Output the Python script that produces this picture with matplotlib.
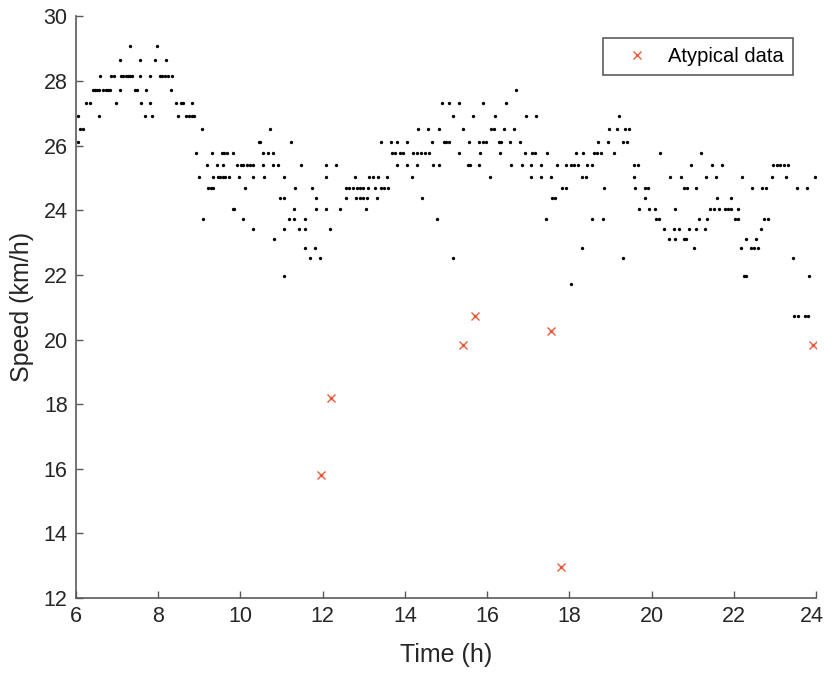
import numpy as np
import matplotlib
matplotlib.use("Agg")
import matplotlib.pyplot as plt
import matplotlib.transforms as mtransforms

plt.rcParams['font.family'] = ['Liberation Sans', 'DejaVu Sans']

# speed levels (km/h) and the times (h) at which each level was recorded
speed_levels = [29.09, 28.64, 28.17, 27.74, 27.32, 26.92, 26.51, 26.13, 25.76,
                25.39, 25.04, 24.69, 24.37, 24.05, 23.73, 23.42, 23.11, 22.82,
                22.54, 21.97, 21.72, 20.72]

times_at_level = [
    [7.31, 7.98],
    [7.06, 7.56, 7.92, 8.18],
    [6.58, 6.84, 6.92, 7.10, 7.15, 7.21, 7.27, 7.31, 7.37, 7.56, 7.80, 8.04,
     8.10, 8.16, 8.24, 8.34],
    [6.41, 6.46, 6.52, 6.57, 6.66, 6.72, 6.78, 6.82, 7.06, 7.43, 7.48, 7.70,
     8.30, 16.69],
    [6.24, 6.33, 6.97, 7.58, 7.81, 8.43, 8.55, 8.61, 8.81, 14.91, 15.06, 15.31,
     15.91, 16.45],
    [6.05, 6.56, 7.67, 7.84, 8.48, 8.68, 8.75, 8.81, 8.87, 15.17, 15.65, 16.19,
     16.95, 17.19, 19.20],
    [6.09, 6.18, 9.06, 10.72, 14.31, 14.56, 14.82, 15.41, 16.09, 16.16, 16.41,
     16.66, 18.96, 19.17, 19.35, 19.45],
    [6.05, 10.44, 10.48, 11.23, 13.41, 13.66, 13.81, 14.06, 14.66, 14.95, 15.00,
     15.07, 15.57, 15.81, 15.90, 15.98, 16.28, 16.33, 16.56, 16.80, 18.70,
     18.93, 19.31, 19.41],
    [8.93, 9.32, 9.55, 9.61, 9.67, 9.83, 10.56, 10.68, 10.80, 13.69, 13.77,
     13.87, 13.95, 14.19, 14.29, 14.39, 14.48, 14.58, 15.31, 15.82, 16.32,
     16.92, 17.08, 17.16, 17.45, 18.15, 18.33, 18.60, 18.68, 18.78, 19.08,
     20.20, 21.20],
    [9.18, 9.42, 9.58, 9.92, 10.01, 10.07, 10.15, 10.23, 10.31, 10.54, 10.80,
     10.92, 11.47, 12.08, 12.33, 13.80, 14.05, 14.30, 14.69, 14.82, 15.54,
     15.59, 15.80, 16.58, 16.84, 17.06, 17.31, 17.70, 17.91, 18.04, 18.10,
     18.20, 18.44, 18.55, 19.57, 19.67, 20.95, 21.46, 21.70, 22.96, 23.04,
     23.12, 23.23, 23.32],
    [8.98, 9.33, 9.45, 9.51, 9.57, 9.62, 9.73, 9.97, 10.31, 10.57, 11.07, 12.08,
     12.79, 13.13, 13.23, 13.34, 13.56, 14.16, 16.07, 17.06, 17.32, 17.56,
     18.31, 18.41, 19.57, 20.44, 20.71, 21.32, 21.56, 22.20, 22.93, 23.28,
     23.97],
    [9.21, 9.28, 9.34, 10.10, 11.33, 11.73, 12.57, 12.65, 12.73, 12.83, 12.91,
     12.99, 13.09, 13.28, 13.42, 13.50, 13.58, 17.81, 17.92, 18.84, 19.59,
     19.84, 19.92, 20.79, 20.86, 21.07, 22.45, 22.69, 22.77, 23.53, 23.78],
    [10.96, 11.06, 11.84, 12.57, 12.81, 12.91, 12.99, 13.07, 13.32, 14.42,
     17.58, 17.66, 19.84, 21.59, 21.94],
    [9.81, 9.84, 11.30, 11.84, 12.07, 12.42, 13.06, 19.69, 19.93, 20.08, 20.57,
     21.42, 21.52, 21.64, 21.78, 21.85, 21.93, 22.09],
    [9.10, 10.07, 11.17, 11.30, 11.58, 14.79, 17.42, 18.55, 18.81, 20.10, 20.18,
     21.15, 21.34, 22.03, 22.09, 22.74, 22.82],
    [10.31, 11.06, 11.43, 11.57, 12.18, 20.31, 20.55, 20.67, 20.92, 21.08,
     21.30, 22.67],
    [10.82, 20.42, 20.58, 20.79, 20.83, 22.30, 22.55],
    [11.56, 11.82, 18.31, 21.04, 22.17, 22.42, 22.50, 22.58],
    [11.68, 11.94, 15.18, 19.30, 23.43],
    [11.07, 22.24, 22.30, 23.82],
    [18.05],
    [23.47, 23.55, 23.73, 23.81],
]

# atypical readings
atypical_time = [11.96, 12.20, 15.42, 15.71, 17.56, 17.80, 23.93]
atypical_speed = [15.81, 18.20, 19.84, 20.74, 20.27, 12.97, 19.84]

t = np.concatenate([np.array(ts) for ts in times_at_level] + [atypical_time])
v = np.concatenate([np.full(len(ts), lv) for ts, lv in zip(times_at_level, speed_levels)]
                   + [atypical_speed])

fig = plt.figure(figsize=(8.26, 6.73), dpi=100)
ax = fig.add_axes([0.092, 0.1114, 0.896, 0.8641])

ax.plot(t, v, 'o', color='k', markersize=2.4, markeredgewidth=0, label='_nolegend_')
ax.plot(atypical_time, atypical_speed, 'x', color='#ec5a38', markersize=6,
        markeredgewidth=1.0, label='Atypical data')

ax.set_xlim(6, 24)
ax.set_ylim(12, 30)
ax.set_xticks(np.arange(6, 25, 2))
ax.set_yticks(np.arange(12, 31, 2))

for side in ['top', 'right']:
    ax.spines[side].set_visible(False)
for side in ['left', 'bottom']:
    ax.spines[side].set_color('#5a5a5a')
    ax.spines[side].set_linewidth(1.2)

ax.tick_params(direction='in', length=5, width=1, colors='#5a5a5a',
               labelcolor='#262626', labelsize=15.5, pad=6)
ax.set_xlabel('Time (h)', fontsize=18, color='#262626', labelpad=11)
ax.set_ylabel('Speed (km/h)', fontsize=18, color='#262626', labelpad=7)

# pull the last x tick label in a little so it stays inside the figure
fig.canvas.draw()
last = ax.get_xticklabels()[-1]
last.set_transform(last.get_transform() +
                   mtransforms.ScaledTranslation(-3 / 72, 0, fig.dpi_scale_trans))

leg = ax.legend(loc='upper right', bbox_to_anchor=(0.969, 0.963),
                borderaxespad=0, fancybox=False, fontsize=14.5,
                handlelength=2.5, handletextpad=0.3, borderpad=0.45)
leg.get_frame().set_edgecolor('#333333')
leg.get_frame().set_linewidth(1.2)

fig.savefig('out.png', dpi=100)
